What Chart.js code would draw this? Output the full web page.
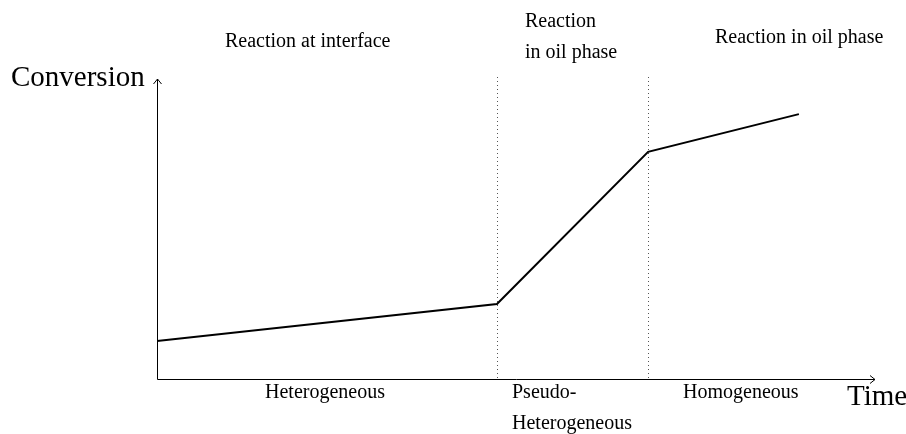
<!DOCTYPE html>
<html>
<head>
<meta charset="utf-8">
<script src="https://cdn.jsdelivr.net/npm/chart.js@4"></script>
<style>
  html, body { margin: 0; padding: 0; background: #fff; }
  #wrap { width: 906px; height: 434px; }
</style>
</head>
<body>
<div id="wrap"><canvas id="chart" width="906" height="434"></canvas></div>
<script>
// data (arbitrary units, 0..100 on both axes)
const timePoints = [0, 47.35, 68.4, 89.4];
const conversion = [12.7, 25, 75.7, 88.3];
const phaseBounds = [47.35, 68.4];

// texts
const yTitle = 'Conversion';
const xTitle = 'Time';
const topLabels = [
  { lines: ['Reaction at interface'], x: 225, y: 47 },
  { lines: ['Reaction', 'in oil phase'], x: 525, y: 27 },
  { lines: ['Reaction in oil phase'], x: 715, y: 43 }
];
const bottomLabels = [
  { lines: ['Heterogeneous'], x: 265, y: 398 },
  { lines: ['Pseudo-', 'Heterogeneous'], x: 512, y: 398 },
  { lines: ['Homogeneous'], x: 683, y: 398 }
];

const serif = '"Liberation Serif", "DejaVu Serif", serif';

// axes with arrows, dotted phase lines, labels
const decorPlugin = {
  id: 'decor',
  beforeDatasetsDraw(chart) {
    const ctx = chart.ctx;
    const xs = chart.scales.x;
    const ys = chart.scales.y;
    const bottom = ys.getPixelForValue(0);
    const top = ys.getPixelForValue(100);

    ctx.save();
    // dotted vertical lines
    ctx.strokeStyle = '#555';
    ctx.lineWidth = 1;
    ctx.setLineDash([1, 3]);
    phaseBounds.forEach(b => {
      const px = Math.round(xs.getPixelForValue(b)) + 0.5;
      ctx.beginPath();
      ctx.moveTo(px, top - 2);
      ctx.lineTo(px, bottom);
      ctx.stroke();
    });
    ctx.setLineDash([]);

    // axes
    const x0 = Math.round(xs.getPixelForValue(0)) + 0.5;
    const x1 = xs.getPixelForValue(100);
    const y0 = Math.round(bottom) + 0.5;
    ctx.strokeStyle = '#000';
    ctx.lineWidth = 1;
    ctx.beginPath();
    ctx.moveTo(x0, y0);
    ctx.lineTo(x0, top);
    ctx.moveTo(x0, y0);
    ctx.lineTo(x1, y0);
    ctx.stroke();
    // arrowheads
    ctx.beginPath();
    ctx.moveTo(x0 - 4, top + 5);
    ctx.lineTo(x0, top);
    ctx.lineTo(x0 + 4, top + 5);
    ctx.moveTo(x1 - 5, y0 - 4);
    ctx.lineTo(x1, y0);
    ctx.lineTo(x1 - 5, y0 + 4);
    ctx.stroke();

    // titles
    ctx.fillStyle = '#000';
    ctx.textBaseline = 'alphabetic';
    ctx.textAlign = 'left';
    ctx.font = '29px ' + serif;
    ctx.fillText(yTitle, 11, 86);
    ctx.fillText(xTitle, 847, 405);

    ctx.font = '20px ' + serif;
    topLabels.concat(bottomLabels).forEach(l => {
      l.lines.forEach((t, i) => ctx.fillText(t, l.x, l.y + i * 31));
    });
    ctx.restore();
  }
};

new Chart(document.getElementById('chart'), {
  type: 'line',
  data: {
    datasets: [{
      data: timePoints.map((t, i) => ({ x: t, y: conversion[i] })),
      borderColor: '#000',
      borderWidth: 2,
      pointRadius: 0,
      tension: 0,
      fill: false
    }]
  },
  options: {
    responsive: false,
    animation: false,
    layout: { padding: { left: 157, right: 31, top: 79, bottom: 55 } },
    scales: {
      x: { type: 'linear', min: 0, max: 100, display: false },
      y: { type: 'linear', min: 0, max: 100, display: false }
    },
    plugins: { legend: { display: false }, tooltip: { enabled: false } }
  },
  plugins: [decorPlugin]
});
</script>
</body>
</html>
